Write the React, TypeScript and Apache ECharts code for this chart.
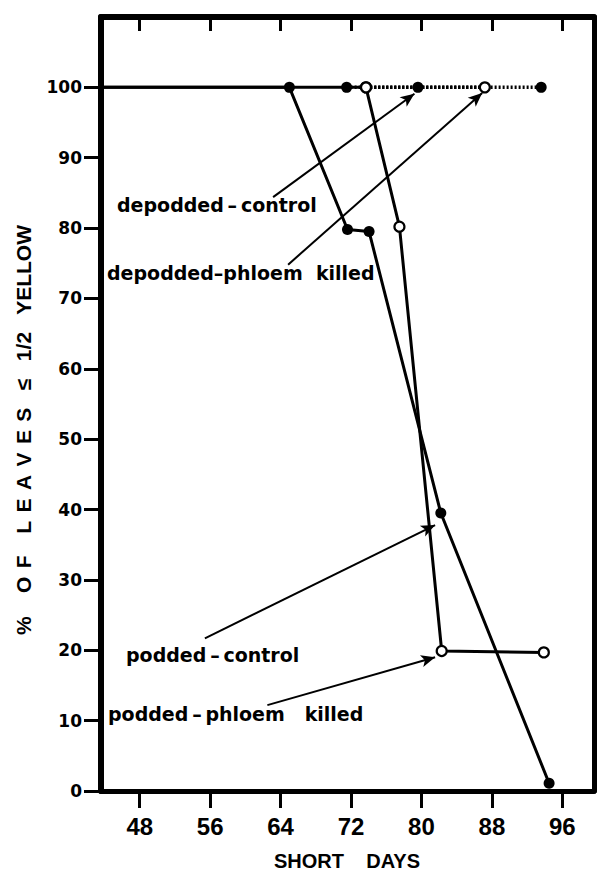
import React, { useEffect, useRef } from "react";
import * as echarts from "echarts";

// ---- axis ranges & ticks ----
const X_MIN = 43.6;
const X_MAX = 99.6;
const Y_MIN = 0;
const Y_MAX = 110;
const X_TICKS = [48, 56, 64, 72, 80, 88, 96];
const Y_TICKS = [0, 10, 20, 30, 40, 50, 60, 70, 80, 90, 100];

// ---- data: [short days, % of leaves <= 1/2 yellow] ----
const poddedControl = [
  [65, 100],
  [71.6, 79.8],
  [74.05, 79.5],
  [82.2, 39.5],
  [94.5, 1.1],
];
const poddedPhloemKilled = [
  [73.7, 100],
  [77.5, 80.2],
  [82.3, 19.9],
  [93.9, 19.7],
];
const depoddedControl = [
  [71.5, 100],
  [79.6, 100],
  [93.6, 100],
];
const depoddedPhloemKilled = [
  [73.7, 100],
  [87.2, 100],
];
// podded curves come in from the left edge of the plot at this value
const poddedLeadIn = 100;

// ---- annotations ----
const annotationLabels = [
  "depodded\u2009\u2013\u2009control",
  "depodded\u2013phloem  killed",
  "podded\u2009\u2013\u2009control",
  "podded\u2009\u2013\u2009phloem   killed",
];
// arrow start / end, in data units
const arrowFrom = [
  [63.15, 84.4],
  [64.85, 74.8],
  [55.4, 21.7],
  [62.5, 12.2],
];
const arrowTo = [
  [79.2, 99.1],
  [86.9, 99.2],
  [81.55, 37.8],
  [81.55, 19.0],
];

const X_TITLE = "SHORT    DAYS";
const Y_TITLE =
  "%    O\u2009\u2009F   \u2009L\u2009\u2009E\u2009\u2009A\u2009\u2009V\u2009\u2009E\u2009\u2009S   \u2264   1/2   YELLOW";

const LABEL_POS = [
  [117, 205],
  [107, 273],
  [126, 655],
  [108, 714],
];

export default function App() {
  const ref = useRef<HTMLDivElement>(null);

  useEffect(() => {
    document.body.style.margin = "0";
    const chart = echarts.init(ref.current!, null, { renderer: "svg" });

    const lineBase = {
      type: "line" as const,
      showSymbol: false,
      symbol: "none",
      z: 2,
      silent: true,
    };
    const filled = {
      type: "scatter" as const,
      symbol: "circle",
      symbolSize: 11,
      itemStyle: { color: "#000", opacity: 1 },
      z: 4,
      silent: true,
    };
    const open = {
      type: "scatter" as const,
      symbol: "circle",
      symbolSize: 10,
      itemStyle: { color: "#fff", borderColor: "#000", borderWidth: 2.2, opacity: 1 },
      z: 5,
      silent: true,
    };

    const option: any = {
      animation: false,
      backgroundColor: "#fff",
      grid: { left: 101, right: 4, top: 17, bottom: 80, containLabel: false },
      xAxis: [
        {
          type: "value",
          min: X_MIN,
          max: X_MAX,
          position: "bottom",
          axisLine: { show: true, onZero: false, lineStyle: { color: "#000", width: 5 } },
          axisTick: {
            show: true,
            customValues: X_TICKS,
            length: 17,
            lineStyle: { color: "#000", width: 3 },
          },
          axisLabel: {
            show: true,
            customValues: X_TICKS,
            margin: 23,
            color: "#000",
            fontFamily: "Liberation Sans",
            fontWeight: "bold",
            fontSize: 24,
          },
          splitLine: { show: false },
        },
        {
          type: "value",
          min: X_MIN,
          max: X_MAX,
          position: "top",
          axisLine: { show: true, onZero: false, lineStyle: { color: "#000", width: 6 } },
          axisTick: {
            show: true,
            inside: true,
            customValues: X_TICKS,
            length: 14,
            lineStyle: { color: "#000", width: 3 },
          },
          axisLabel: { show: false },
          splitLine: { show: false },
        },
      ],
      yAxis: [
        {
          type: "value",
          min: Y_MIN,
          max: Y_MAX,
          position: "left",
          axisLine: { show: true, onZero: false, lineStyle: { color: "#000", width: 6 } },
          axisTick: {
            show: true,
            customValues: Y_TICKS,
            length: 17,
            lineStyle: { color: "#000", width: 3 },
          },
          axisLabel: {
            show: true,
            customValues: Y_TICKS,
            margin: 19,
            color: "#000",
            fontFamily: "DejaVu Sans",
            fontWeight: "bold",
            fontSize: 17,
          },
          splitLine: { show: false },
        },
        {
          type: "value",
          min: Y_MIN,
          max: Y_MAX,
          position: "right",
          axisLine: { show: true, onZero: false, lineStyle: { color: "#000", width: 5 } },
          axisTick: { show: false },
          axisLabel: { show: false },
          splitLine: { show: false },
        },
      ],
      series: [
        {
          ...lineBase,
          name: "podded-control",
          data: [[X_MIN, poddedLeadIn], ...poddedControl],
          lineStyle: { color: "#000", width: 3 },
        },
        {
          ...lineBase,
          name: "podded-phloem killed",
          data: [[X_MIN, poddedLeadIn], ...poddedPhloemKilled],
          lineStyle: { color: "#000", width: 3 },
        },
        {
          ...lineBase,
          name: "depodded-control",
          data: depoddedControl,
          lineStyle: { color: "#000", width: 3.5, type: [2, 2] },
        },
        {
          ...lineBase,
          name: "depodded-phloem killed",
          data: depoddedPhloemKilled,
          lineStyle: { color: "#000", width: 3.5, type: [2, 2] },
        },
        { ...filled, name: "podded-control pts", data: poddedControl },
        { ...filled, name: "depodded-control pts", data: depoddedControl },
        { ...open, name: "podded-phloem pts", data: poddedPhloemKilled },
        { ...open, name: "depodded-phloem pts", data: depoddedPhloemKilled },
        {
          type: "line",
          name: "arrows",
          data: [],
          silent: true,
          z: 3,
          markLine: {
            silent: true,
            animation: false,
            symbol: ["none", "arrow"],
            symbolSize: [9, 14],
            label: { show: false },
            lineStyle: { color: "#000", width: 2, type: "solid" },
            emphasis: { disabled: true },
            data: arrowFrom.map((f, i) => [
              { coord: f, symbol: "none" },
              { coord: arrowTo[i], symbol: "arrow" },
            ]),
          },
        },
      ],
      graphic: [
        ...annotationLabels.map((t, i) => ({
          type: "text",
          x: LABEL_POS[i][0],
          y: LABEL_POS[i][1],
          silent: true,
          style: {
            text: t,
            fill: "#000",
            font: 'bold 19px "DejaVu Sans"',
            align: "left",
            verticalAlign: "middle",
          },
        })),
        {
          type: "text",
          x: 347,
          y: 861,
          silent: true,
          style: {
            text: X_TITLE,
            fill: "#000",
            font: 'bold 20px "Liberation Sans"',
            align: "center",
            verticalAlign: "middle",
          },
        },
        {
          type: "text",
          x: 23,
          y: 430,
          rotation: Math.PI / 2,
          silent: true,
          style: {
            text: Y_TITLE,
            fill: "#000",
            font: 'bold 21px "Liberation Sans"',
            align: "center",
            verticalAlign: "middle",
          },
        },
      ],
    };

    chart.setOption(option);
    return () => chart.dispose();
  }, []);

  return (
    <div
      ref={ref}
      style={{ position: "absolute", left: 0, top: 0, width: 598, height: 871 }}
    />
  );
}
